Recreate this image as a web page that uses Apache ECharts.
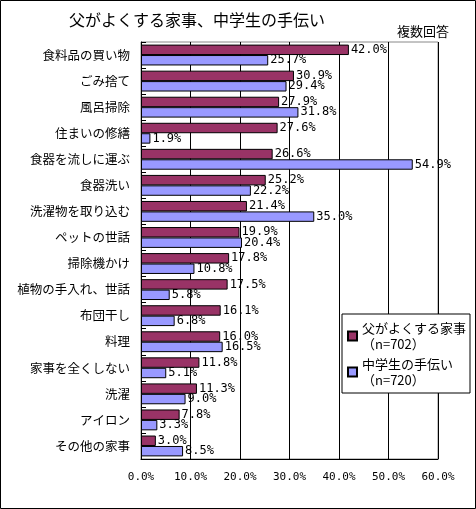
<!DOCTYPE html>
<html>
<head>
<meta charset="utf-8">
<script src="https://cdn.jsdelivr.net/npm/echarts@6/dist/echarts.min.js"></script>
<style>
  html, body { margin: 0; padding: 0; background: #fff; }
  #chart { width: 476px; height: 509px; }
</style>
</head>
<body>
<div id="chart"></div>
<script>
// 家事の項目（上から順に）
const categories = [
  '食料品の買い物', 'ごみ捨て', '風呂掃除', '住まいの修繕', '食器を流しに運ぶ',
  '食器洗い', '洗濯物を取り込む', 'ペットの世話', '掃除機かけ', '植物の手入れ、世話',
  '布団干し', '料理', '家事を全くしない', '洗濯', 'アイロン', 'その他の家事'
];
const fatherValues = [42.0, 30.9, 27.9, 27.6, 26.6, 25.2, 21.4, 19.9, 17.8, 17.5, 16.1, 16.0, 11.8, 11.3, 7.8, 3.0];
const studentValues = [25.7, 29.4, 31.8, 1.9, 54.9, 22.2, 35.0, 20.4, 10.8, 5.8, 6.8, 16.5, 5.1, 9.0, 3.3, 8.5];
const seriesNames = ['父がよくする家事', '中学生の手伝い'];
const seriesNotes = ['（n=702）', '（n=720）'];
const xTicks = [0, 10, 20, 30, 40, 50, 60];

const jp = '"Noto Sans CJK JP", sans-serif';
const mono = '"DejaVu Sans Mono", monospace';
const pct = v => Number(v).toFixed(1) + '%';

const labelStyle = {
  show: true,
  position: 'right',
  distance: 2,
  color: '#000',
  fontFamily: mono,
  fontSize: 12,
  formatter: p => pct(p.value),
};

const option = {
  animation: false,
  backgroundColor: '#fff',
  title: [
    {
      text: '父がよくする家事、中学生の手伝い',
      left: 64, top: 7,
      textStyle: { fontFamily: jp, fontSize: 16, fontWeight: 'normal', color: '#000' },
    },
    {
      text: '複数回答',
      left: 392, top: 20,
      textStyle: { fontFamily: jp, fontSize: 13, fontWeight: 'normal', color: '#000' },
    },
  ],
  graphic: [
    {
      type: 'rect',
      shape: { x: 0.5, y: 0.5, width: 475, height: 508 },
      style: { fill: null, stroke: '#000', lineWidth: 1 },
      z: 100,
    },
  ],
  legend: {
    orient: 'vertical',
    left: 342, top: 314,
    width: 124,
    padding: [6, 4, 5, 5],
    itemGap: 4,
    itemWidth: 9, itemHeight: 9,
    icon: 'rect',
    backgroundColor: '#fff',
    borderColor: '#000',
    borderWidth: 1,
    textStyle: { fontFamily: jp, fontSize: 13, color: '#000', lineHeight: 16 },
    formatter: name => name + '\n' + seriesNotes[seriesNames.indexOf(name)],
    data: seriesNames,
  },
  grid: {
    left: 141, top: 42, right: 38, bottom: 50,
    show: true,
    borderColor: '#888',
    borderWidth: 1,
  },
  xAxis: {
    type: 'value',
    min: xTicks[0], max: xTicks[xTicks.length - 1], interval: 10,
    axisLine: { show: true, lineStyle: { color: '#000' } },
    axisTick: { show: false },
    splitLine: { show: true, lineStyle: { color: '#000', width: 1 } },
    axisLabel: {
      color: '#000', fontFamily: mono, fontSize: 11, margin: 13,
      formatter: v => pct(v),
    },
  },
  yAxis: {
    type: 'category',
    inverse: true,
    data: categories,
    axisLine: { show: true, lineStyle: { color: '#000' } },
    axisTick: { show: true, inside: true, length: 5, lineStyle: { color: '#000' } },
    axisLabel: { color: '#000', fontFamily: jp, fontSize: 12.5, margin: 11 },
  },
  series: [
    {
      name: seriesNames[0],
      type: 'bar',
      data: fatherValues,
      barGap: '0%',
      barCategoryGap: '20%',
      itemStyle: { color: '#993366', borderColor: '#000', borderWidth: 1 },
      label: labelStyle,
    },
    {
      name: seriesNames[1],
      type: 'bar',
      data: studentValues,
      itemStyle: { color: '#9999FF', borderColor: '#000', borderWidth: 1 },
      label: labelStyle,
    },
  ],
};

const myChart = echarts.init(document.getElementById('chart'));
myChart.setOption(option);
</script>
</body>
</html>
